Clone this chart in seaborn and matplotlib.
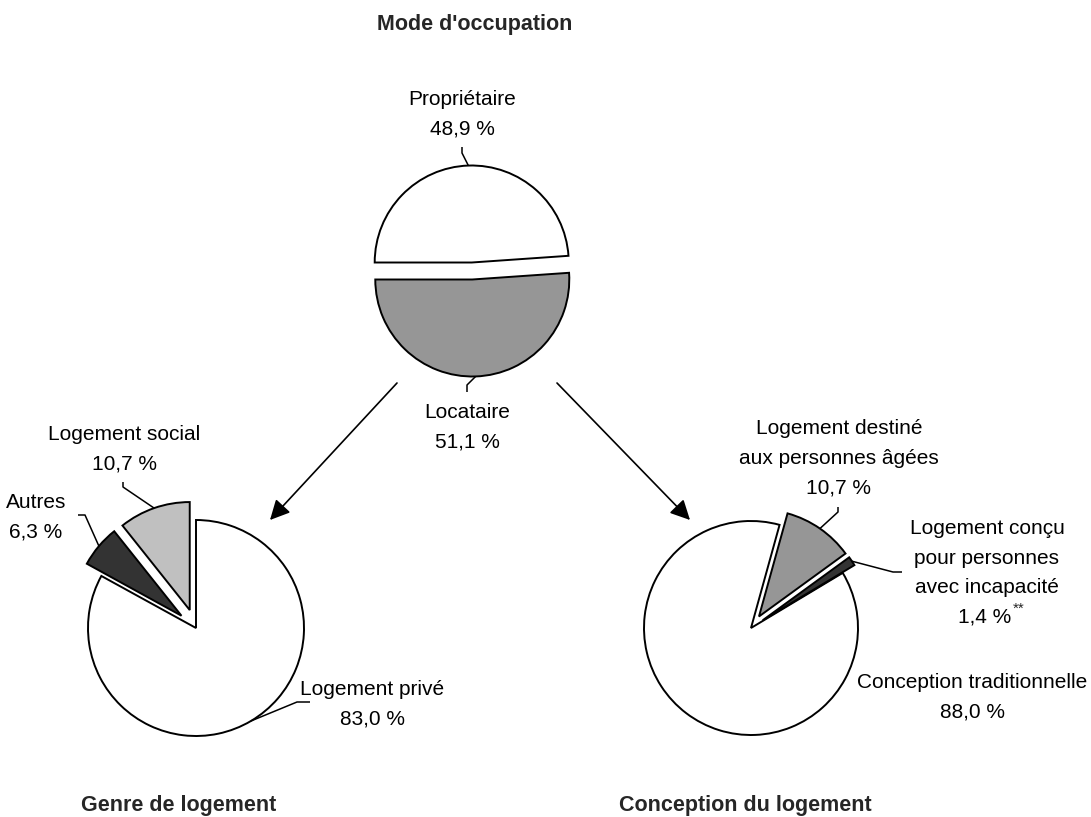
import numpy as np
import matplotlib
matplotlib.use("Agg")
import matplotlib.pyplot as plt
import seaborn as sns

# data
occupation_labels = ["Propriétaire", "Locataire"]
occupation_values = [48.9, 51.1]
occupation_colors = ["#ffffff", "#969696"]

genre_labels = ["Logement privé", "Autres", "Logement social"]
genre_values = [83.0, 6.3, 10.7]
genre_colors = ["#ffffff", "#333333", "#c0c0c0"]

conception_labels = ["Conception traditionnelle",
                     "Logement destiné\naux personnes âgées",
                     "Logement conçu\npour personnes\navec incapacité"]
conception_values = [88.0, 10.7, 1.4]
conception_colors = ["#ffffff", "#969696", "#333333"]

titles = ["Mode d'occupation", "Genre de logement", "Conception du logement"]

sns.set_theme(style="white")
plt.rcParams["font.family"] = ["Liberation Sans", "DejaVu Sans"]

W, H = 1091, 817
fig = plt.figure(figsize=(W / 100, H / 100), dpi=100)
ax = fig.add_axes([0, 0, 1, 1])


def y(v):
    # pixel row (from top) -> data y
    return H - v


def pct(v):
    return f"{v:.1f}".replace(".", ",") + " %"


edge = dict(edgecolor="black", linewidth=1.4)

# explode is in data units here (pixels), since the axes spans the figure
w_occ, _ = ax.pie(occupation_values, colors=occupation_colors, startangle=180,
                  counterclock=False, explode=[8.5, 8.5],
                  center=(472, y(271)), radius=97, wedgeprops=edge)
w_gen, _ = ax.pie(genre_values, colors=genre_colors, startangle=90,
                  counterclock=False, explode=[0, 19, 19],
                  center=(196, y(628)), radius=108, wedgeprops=edge)
w_con, _ = ax.pie(conception_values, colors=conception_colors, startangle=31,
                  counterclock=False, explode=[0, 14, 14],
                  center=(751, y(628)), radius=107, wedgeprops=edge)


def leader(wedge, pts):
    t = np.deg2rad((wedge.theta1 + wedge.theta2) / 2)
    cx, cy = wedge.center
    xs = [cx + wedge.r * np.cos(t)] + [p[0] for p in pts]
    ys = [cy + wedge.r * np.sin(t)] + [y(p[1]) for p in pts]
    ax.plot(xs, ys, color="black", lw=1.1, solid_capstyle="butt")


fs = 15
txt = dict(ha="center", va="center", fontsize=fs, linespacing=1.72, color="black")

# top pie labels
ax.text(462, y(114), f"{occupation_labels[0]}\n{pct(occupation_values[0])}", **txt)
leader(w_occ[0], [(462, 153), (462, 147)])
ax.text(467, y(427), f"{occupation_labels[1]}\n{pct(occupation_values[1])}", **txt)
leader(w_occ[1], [(467, 385), (467, 392)])

# genre de logement
ax.text(372, y(704), f"{genre_labels[0]}\n{pct(genre_values[0])}", **txt)
leader(w_gen[0], [(297, 702), (310, 702)])
ax.text(36, y(517), f"{genre_labels[1]}\n{pct(genre_values[1])}", **txt)
leader(w_gen[1], [(85, 515), (78, 515)])
ax.text(124, y(449), f"{genre_labels[2]}\n{pct(genre_values[2])}", **txt)
leader(w_gen[2], [(123, 487), (123, 482)])

# conception du logement
ax.text(972, y(697), f"{conception_labels[0]}\n{pct(conception_values[0])}", **txt)
ax.text(839, y(458), f"{conception_labels[1]}\n{pct(conception_values[1])}", **txt)
leader(w_con[1], [(838, 512), (838, 507)])
ax.text(987, y(558), conception_labels[2], **txt)
ax.text(985, y(617), pct(conception_values[2]), **txt)
ax.text(1013, y(609), "**", ha="left", va="center", fontsize=11)
leader(w_con[2], [(893, 572), (902, 572)])

# arrows
arrow = dict(arrowstyle="-|>", mutation_scale=30, color="black", lw=1.2,
             shrinkA=0, shrinkB=0)
ax.annotate("", xy=(270, y(520)), xytext=(397, y(383)), arrowprops=arrow)
ax.annotate("", xy=(690, y(520)), xytext=(557, y(383)), arrowprops=arrow)

# titles
ttl = dict(ha="center", va="center", fontsize=15.5, fontweight="bold")
ax.text(475, y(24), titles[0], **ttl)
ax.text(179, y(806), titles[1], **ttl)
ax.text(745, y(806), titles[2], **ttl)

ax.set_xlim(0, W)
ax.set_ylim(0, H)
ax.set_aspect("equal")
ax.axis("off")

plt.savefig("out.png", dpi=100, facecolor="white")
